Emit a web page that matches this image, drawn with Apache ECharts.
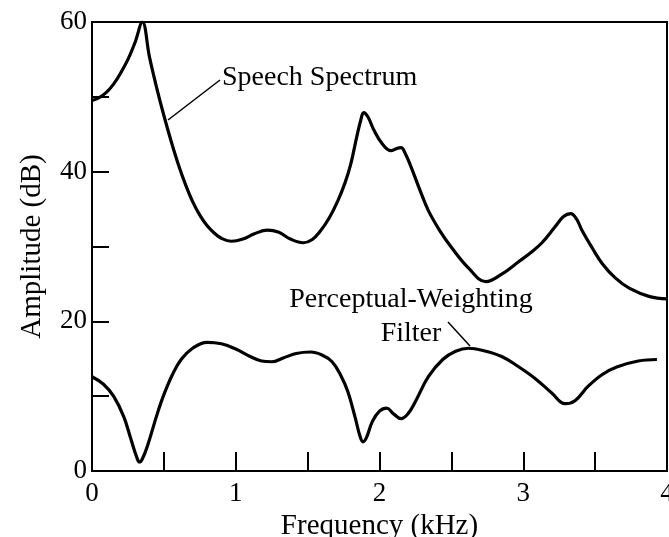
<!DOCTYPE html>
<html>
<head>
<meta charset="utf-8">
<script src="https://cdn.jsdelivr.net/npm/echarts@6/dist/echarts.min.js"></script>
<style>html,body{margin:0;padding:0;background:#fff;overflow:hidden;}#c{width:669px;height:537px;}</style>
</head>
<body>
<div id="c"></div>
<script>
// Frequency (kHz) / Amplitude (dB) pairs
var speechFreq = [0, 0.05, 0.1, 0.15, 0.2, 0.25, 0.3, 0.35, 0.4, 0.45, 0.5, 0.55, 0.6, 0.65, 0.7, 0.75, 0.8, 0.85, 0.9, 0.97, 1.05, 1.13, 1.22, 1.30, 1.38, 1.47, 1.53, 1.59, 1.65, 1.71, 1.76, 1.80, 1.84, 1.87, 1.89, 1.92, 1.96, 2.02, 2.08, 2.12, 2.15, 2.18, 2.22, 2.28, 2.34, 2.42, 2.50, 2.62, 2.74, 2.85, 2.97, 3.06, 3.13, 3.22, 3.28, 3.33, 3.37, 3.41, 3.48, 3.55, 3.64, 3.74, 3.88, 4.0];
var speechAmp  = [49.5, 49.9, 50.6, 51.7, 53.2, 55.0, 57.3, 60, 55.3, 51.2, 47.5, 44.1, 41.0, 38.3, 36.0, 34.2, 32.8, 31.8, 31.1, 30.7, 31.0, 31.7, 32.2, 31.9, 31.0, 30.5, 30.9, 32.1, 33.8, 36.1, 38.5, 41.0, 44.5, 46.9, 47.9, 47.3, 45.6, 43.7, 42.8, 43.1, 43.2, 42.4, 40.6, 37.6, 34.8, 32.1, 29.9, 27.1, 25.3, 26.3, 28.0, 29.3, 30.5, 32.6, 34.0, 34.4, 33.7, 32.1, 29.8, 27.7, 25.8, 24.4, 23.3, 23.0];

var filterFreq = [0, 0.08, 0.15, 0.22, 0.27, 0.31, 0.33, 0.35, 0.39, 0.45, 0.5, 0.56, 0.62, 0.7, 0.8, 0.9, 1.0, 1.1, 1.18, 1.25, 1.33, 1.42, 1.52, 1.6, 1.67, 1.73, 1.78, 1.83, 1.865, 1.885, 1.91, 1.95, 2.0, 2.05, 2.1, 2.15, 2.2, 2.25, 2.34, 2.44, 2.53, 2.62, 2.72, 2.85, 2.97, 3.08, 3.2, 3.29, 3.36, 3.45, 3.55, 3.65, 3.8, 3.93];
var filterAmp  = [12.6, 11.6, 10.0, 7.3, 4.3, 1.9, 1.2, 1.6, 3.6, 7.4, 10.2, 12.9, 14.9, 16.4, 17.2, 17.0, 16.3, 15.3, 14.7, 14.6, 15.1, 15.7, 15.9, 15.5, 14.6, 12.8, 10.6, 7.2, 4.6, 3.9, 4.5, 6.6, 8.0, 8.4, 7.6, 7.0, 7.7, 9.3, 12.6, 14.9, 16.0, 16.4, 16.1, 15.3, 13.9, 12.4, 10.4, 9.0, 9.4, 11.3, 12.9, 13.9, 14.7, 14.9];

var xTickLabels = ['0', '1', '2', '3', '4'];
var yTickLabels = ['0', '20', '40', '60'];

function pairs(xs, ys) { return xs.map(function (x, i) { return [x, ys[i]]; }); }

var FONT = '"Liberation Serif", "Times New Roman", serif';
var chart = echarts.init(document.getElementById('c'), null, { renderer: 'canvas' });
chart.setOption({
  animation: false,
  backgroundColor: '#fff',
  grid: { left: 92, right: 2, top: 22, bottom: 66, show: true, borderColor: '#000', borderWidth: 2, backgroundColor: 'transparent',
          containLabel: false, outerBoundsMode: 'none' },
  xAxis: {
    type: 'value', min: 0, max: 4, interval: 0.5,
    name: 'Frequency (kHz)', nameLocation: 'middle', nameGap: 33,
    nameTextStyle: { fontFamily: FONT, fontSize: 29, color: '#000' },
    axisLine: { show: true, lineStyle: { color: '#000', width: 2 } },
    axisTick: { show: true, inside: true, length: 19, lineStyle: { color: '#000', width: 2 } },
    axisLabel: { margin: 9, fontFamily: FONT, fontSize: 27, color: '#000', hideOverlap: false,
      formatter: function (v) { return xTickLabels.indexOf(String(v)) >= 0 ? String(v) : ''; } },
    splitLine: { show: false }
  },
  yAxis: {
    type: 'value', min: 0, max: 60, interval: 10,
    name: 'Amplitude (dB)', nameLocation: 'middle', nameGap: 45,
    nameTextStyle: { fontFamily: FONT, fontSize: 29, color: '#000' },
    axisLine: { show: true, lineStyle: { color: '#000', width: 2 } },
    axisTick: { show: true, inside: true, length: 17, lineStyle: { color: '#000', width: 2 } },
    axisLabel: { margin: 5, fontFamily: FONT, fontSize: 27, color: '#000',
      formatter: function (v) { return yTickLabels.indexOf(String(v)) >= 0 ? String(v) : ''; } },
    splitLine: { show: false }
  },
  series: [
    { name: 'Speech Spectrum', type: 'line', data: pairs(speechFreq, speechAmp), smooth: 0.4, showSymbol: false,
      lineStyle: { color: '#000', width: 3.2 } },
    { name: 'Perceptual-Weighting Filter', type: 'line', data: pairs(filterFreq, filterAmp), smooth: 0.4, showSymbol: false,
      lineStyle: { color: '#000', width: 3.2 } }
  ],
  graphic: [
    { type: 'text', left: 222, top: 64, style: { text: 'Speech Spectrum', font: '28px ' + FONT, fill: '#000' } },
    { type: 'line', shape: { x1: 220, y1: 80, x2: 168, y2: 120 }, style: { stroke: '#000', lineWidth: 1.5 } },
    { type: 'text', x: 411, y: 283, style: { text: 'Perceptual-Weighting\nFilter', font: '28px ' + FONT, fill: '#000', textAlign: 'center', lineHeight: 34 } },
    { type: 'line', shape: { x1: 448, y1: 322, x2: 470, y2: 346 }, style: { stroke: '#000', lineWidth: 1.5 } }
  ]
});
</script>
</body>
</html>
